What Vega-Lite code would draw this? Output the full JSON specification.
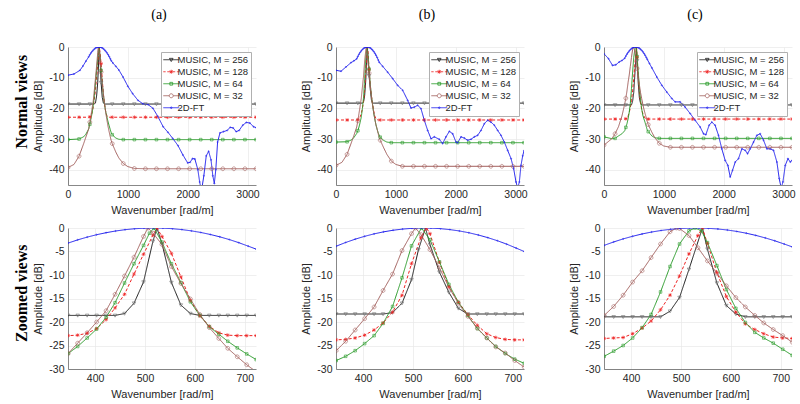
{
"$schema":"https://vega.github.io/schema/vega-lite/v6.json",
"padding":{"left":13,"top":8,"right":0,"bottom":0},
"config":{
 "view":{"stroke":null},
 "font":"Liberation Sans",
 "axis":{"labelFont":"Liberation Sans","labelFontSize":10.5,"labelColor":"#262626","titleFont":"Liberation Sans","titleFontSize":11,"titleFontWeight":"normal","titleColor":"#262626","grid":true,"gridColor":"#e8e8e8","gridWidth":0.7,"domainColor":"#555555","domainWidth":0.7,"ticks":false,"labelPadding":4,"titlePadding":5,"labelFlush":false,"labelExpr":"''+datum.value"},
 "title":{"font":"Liberation Serif","fontSize":14,"fontWeight":"normal","color":"#000000"},
 "legend":{"orient":"top-right","offset":5,"title":null,"symbolOpacity":1,"symbolSize":16,"symbolStrokeWidth":0.8,"symbolOffset":2.5,"labelOffset":1.5,"labelFont":"Liberation Sans","labelFontSize":9.5,"labelColor":"#262626","fillColor":"white","strokeColor":"#b0b0b0","padding":3,"rowPadding":1}
},
"datasets":{
"a":[
{"s":"k","x":0,"y":-18.6,"m":2},{"s":"k","x":185,"y":-18.6,"m":2},{"s":"k","x":346,"y":-18.6,"m":1},{"s":"k","x":365,"y":-18.6,"m":2},{"s":"k","x":384,"y":-18.6,"m":1},{"s":"k","x":403,"y":-18.6,"m":1},{"s":"k","x":422,"y":-18.6,"m":1},{"s":"k","x":440,"y":-18.6,"m":1},{"s":"k","x":459,"y":-18.2,"m":1},{"s":"k","x":478,"y":-16,"m":1},{"s":"k","x":497,"y":-11.5,"m":1},{"s":"k","x":516,"y":-2.8,"m":1},{"s":"k","x":524,"y":0,"m":1},{"s":"k","x":534,"y":-3.3,"m":1},{"s":"k","x":553,"y":-11.6,"m":2},{"s":"k","x":572,"y":-16.4,"m":1},{"s":"k","x":591,"y":-18.2,"m":1},{"s":"k","x":610,"y":-18.6,"m":1},{"s":"k","x":629,"y":-18.6,"m":1},{"s":"k","x":648,"y":-18.6,"m":1},{"s":"k","x":666,"y":-18.6,"m":1},{"s":"k","x":685,"y":-18.6,"m":1},{"s":"k","x":704,"y":-18.6,"m":1},{"s":"k","x":723,"y":-18.6,"m":1},{"s":"k","x":739,"y":-18.6,"m":2},{"s":"k","x":924,"y":-18.6,"m":2},{"s":"k","x":1109,"y":-18.6,"m":2},{"s":"k","x":1294,"y":-18.6,"m":2},{"s":"k","x":1478,"y":-18.6,"m":2},{"s":"k","x":1663,"y":-18.6,"m":2},{"s":"k","x":1848,"y":-18.6,"m":2},{"s":"k","x":2033,"y":-18.6,"m":2},{"s":"k","x":2218,"y":-18.6,"m":2},{"s":"k","x":2402,"y":-18.6,"m":2},{"s":"k","x":2587,"y":-18.6,"m":2},{"s":"k","x":2772,"y":-18.6,"m":2},{"s":"k","x":2957,"y":-18.6,"m":2},{"s":"k","x":3142,"y":-18.6,"m":2},
{"s":"r","x":0,"y":-22.9,"m":2},{"s":"r","x":185,"y":-22.9,"m":2},{"s":"r","x":346,"y":-22.9,"m":1},{"s":"r","x":365,"y":-22.8,"m":2},{"s":"r","x":384,"y":-22.4,"m":1},{"s":"r","x":403,"y":-21.4,"m":1},{"s":"r","x":422,"y":-19.5,"m":1},{"s":"r","x":440,"y":-17,"m":1},{"s":"r","x":459,"y":-14.1,"m":1},{"s":"r","x":478,"y":-9.8,"m":1},{"s":"r","x":497,"y":-5.6,"m":1},{"s":"r","x":516,"y":-1.5,"m":1},{"s":"r","x":524,"y":0,"m":1},{"s":"r","x":534,"y":-1.8,"m":1},{"s":"r","x":553,"y":-5.4,"m":2},{"s":"r","x":572,"y":-10.4,"m":1},{"s":"r","x":591,"y":-15.4,"m":1},{"s":"r","x":610,"y":-18.7,"m":1},{"s":"r","x":629,"y":-20.9,"m":1},{"s":"r","x":648,"y":-22.3,"m":1},{"s":"r","x":666,"y":-22.8,"m":1},{"s":"r","x":685,"y":-22.9,"m":1},{"s":"r","x":704,"y":-22.9,"m":1},{"s":"r","x":723,"y":-22.9,"m":1},{"s":"r","x":739,"y":-22.9,"m":2},{"s":"r","x":924,"y":-22.9,"m":2},{"s":"r","x":1109,"y":-22.9,"m":2},{"s":"r","x":1294,"y":-22.9,"m":2},{"s":"r","x":1478,"y":-22.9,"m":2},{"s":"r","x":1663,"y":-22.9,"m":2},{"s":"r","x":1848,"y":-22.9,"m":2},{"s":"r","x":2033,"y":-22.9,"m":2},{"s":"r","x":2218,"y":-22.9,"m":2},{"s":"r","x":2402,"y":-22.9,"m":2},{"s":"r","x":2587,"y":-22.9,"m":2},{"s":"r","x":2772,"y":-22.9,"m":2},{"s":"r","x":2957,"y":-22.9,"m":2},{"s":"r","x":3142,"y":-22.9,"m":2},
{"s":"g","x":0,"y":-30.2,"m":2},{"s":"g","x":185,"y":-30,"m":2},{"s":"g","x":260,"y":-29.3},{"s":"g","x":300,"y":-28.4},{"s":"g","x":346,"y":-26.7,"m":1},{"s":"g","x":365,"y":-25.2,"m":2},{"s":"g","x":384,"y":-23.4,"m":1},{"s":"g","x":403,"y":-21.5,"m":1},{"s":"g","x":422,"y":-19,"m":1},{"s":"g","x":440,"y":-15.9,"m":1},{"s":"g","x":459,"y":-11.7,"m":1},{"s":"g","x":478,"y":-7.6,"m":1},{"s":"g","x":497,"y":-3.7,"m":1},{"s":"g","x":509,"y":-1.1,"m":1},{"s":"g","x":518,"y":0,"m":1},{"s":"g","x":534,"y":-3,"m":1},{"s":"g","x":553,"y":-7.6,"m":2},{"s":"g","x":572,"y":-11.6,"m":1},{"s":"g","x":591,"y":-15.7,"m":1},{"s":"g","x":610,"y":-18.6,"m":1},{"s":"g","x":629,"y":-21,"m":1},{"s":"g","x":648,"y":-22.6,"m":1},{"s":"g","x":666,"y":-24.1,"m":1},{"s":"g","x":685,"y":-25.5,"m":1},{"s":"g","x":704,"y":-26.8,"m":1},{"s":"g","x":723,"y":-28,"m":1},{"s":"g","x":739,"y":-28.6,"m":2},{"s":"g","x":800,"y":-29.7},{"s":"g","x":850,"y":-30.1},{"s":"g","x":924,"y":-30.2,"m":2},{"s":"g","x":1109,"y":-30.2,"m":2},{"s":"g","x":1294,"y":-30.2,"m":2},{"s":"g","x":1478,"y":-30.2,"m":2},{"s":"g","x":1663,"y":-30.2,"m":2},{"s":"g","x":1848,"y":-30.2,"m":2},{"s":"g","x":2033,"y":-30.2,"m":2},{"s":"g","x":2218,"y":-30.2,"m":2},{"s":"g","x":2402,"y":-30.2,"m":2},{"s":"g","x":2587,"y":-30.2,"m":2},{"s":"g","x":2772,"y":-30.2,"m":2},{"s":"g","x":2957,"y":-30.2,"m":2},{"s":"g","x":3142,"y":-30.2,"m":2},
{"s":"o","x":0,"y":-39.3,"m":2},{"s":"o","x":100,"y":-38.3},{"s":"o","x":185,"y":-35.6,"m":2},{"s":"o","x":260,"y":-31.6},{"s":"o","x":300,"y":-29.3},{"s":"o","x":346,"y":-26.7,"m":1},{"s":"o","x":365,"y":-24.5,"m":2},{"s":"o","x":384,"y":-22.3,"m":1},{"s":"o","x":403,"y":-20,"m":1},{"s":"o","x":422,"y":-17.6,"m":1},{"s":"o","x":440,"y":-14.1,"m":1},{"s":"o","x":459,"y":-10.2,"m":1},{"s":"o","x":478,"y":-6.2,"m":1},{"s":"o","x":497,"y":-1.8,"m":1},{"s":"o","x":506,"y":0,"m":1},{"s":"o","x":516,"y":-1.1,"m":1},{"s":"o","x":534,"y":-3.5,"m":1},{"s":"o","x":553,"y":-8.2,"m":2},{"s":"o","x":572,"y":-11.8,"m":1},{"s":"o","x":591,"y":-15.1,"m":1},{"s":"o","x":610,"y":-18.4,"m":1},{"s":"o","x":629,"y":-21.2,"m":1},{"s":"o","x":648,"y":-23.5,"m":1},{"s":"o","x":666,"y":-25.6,"m":1},{"s":"o","x":685,"y":-27.4,"m":1},{"s":"o","x":704,"y":-29.1,"m":1},{"s":"o","x":723,"y":-30.6,"m":1},{"s":"o","x":739,"y":-31.5,"m":2},{"s":"o","x":800,"y":-34.3},{"s":"o","x":850,"y":-36.2},{"s":"o","x":924,"y":-38,"m":2},{"s":"o","x":1000,"y":-39},{"s":"o","x":1109,"y":-39.6,"m":2},{"s":"o","x":1294,"y":-39.7,"m":2},{"s":"o","x":1478,"y":-39.7,"m":2},{"s":"o","x":1663,"y":-39.7,"m":2},{"s":"o","x":1848,"y":-39.7,"m":2},{"s":"o","x":2033,"y":-39.7,"m":2},{"s":"o","x":2218,"y":-39.7,"m":2},{"s":"o","x":2402,"y":-39.7,"m":2},{"s":"o","x":2587,"y":-39.7,"m":2},{"s":"o","x":2772,"y":-39.7,"m":2},{"s":"o","x":2957,"y":-39.7,"m":2},{"s":"o","x":3142,"y":-39.7,"m":2},
{"s":"b","x":0,"y":-9.2,"m":2},{"s":"b","x":100,"y":-8.8,"m":2},{"s":"b","x":200,"y":-7.6,"m":2},{"s":"b","x":250,"y":-6.2,"m":2},{"s":"b","x":300,"y":-4.6,"m":2},{"s":"b","x":346,"y":-3.2,"m":2},{"s":"b","x":365,"y":-2.53,"m":2},{"s":"b","x":384,"y":-1.94,"m":2},{"s":"b","x":403,"y":-1.43,"m":2},{"s":"b","x":422,"y":-1,"m":2},{"s":"b","x":441,"y":-0.64,"m":2},{"s":"b","x":460,"y":-0.36,"m":2},{"s":"b","x":479,"y":-0.16,"m":2},{"s":"b","x":498,"y":-0.04,"m":2},{"s":"b","x":517,"y":0,"m":2},{"s":"b","x":536,"y":-0.03,"m":2},{"s":"b","x":555,"y":-0.15,"m":2},{"s":"b","x":574,"y":-0.34,"m":2},{"s":"b","x":593,"y":-0.61,"m":2},{"s":"b","x":612,"y":-0.95,"m":2},{"s":"b","x":631,"y":-1.38,"m":2},{"s":"b","x":650,"y":-1.88,"m":2},{"s":"b","x":669,"y":-2.46,"m":2},{"s":"b","x":688,"y":-3.12,"m":2},{"s":"b","x":707,"y":-3.86,"m":2},{"s":"b","x":723,"y":-4.5,"m":2},{"s":"b","x":750,"y":-5.2,"m":2},{"s":"b","x":800,"y":-6.3,"m":2},{"s":"b","x":850,"y":-7.5,"m":2},{"s":"b","x":920,"y":-9.8,"m":2},{"s":"b","x":1000,"y":-12.8,"m":2},{"s":"b","x":1080,"y":-15.2,"m":2},{"s":"b","x":1170,"y":-17.4,"m":2},{"s":"b","x":1250,"y":-18.5,"m":2},{"s":"b","x":1340,"y":-18.8,"m":2},{"s":"b","x":1420,"y":-20,"m":2},{"s":"b","x":1500,"y":-22.6,"m":2},{"s":"b","x":1590,"y":-26,"m":2},{"s":"b","x":1670,"y":-27.8,"m":2},{"s":"b","x":1750,"y":-29.8,"m":2},{"s":"b","x":1840,"y":-32.2,"m":2},{"s":"b","x":1920,"y":-35.2,"m":2},{"s":"b","x":2000,"y":-37.8,"m":2},{"s":"b","x":2040,"y":-37.6,"m":2},{"s":"b","x":2080,"y":-36.4,"m":2},{"s":"b","x":2120,"y":-36.5,"m":2},{"s":"b","x":2170,"y":-40,"m":2},{"s":"b","x":2200,"y":-44,"m":2},{"s":"b","x":2230,"y":-47,"m":2},{"s":"b","x":2270,"y":-42,"m":2},{"s":"b","x":2310,"y":-35.5,"m":2},{"s":"b","x":2350,"y":-34,"m":2},{"s":"b","x":2390,"y":-36.8,"m":2},{"s":"b","x":2420,"y":-42,"m":2},{"s":"b","x":2445,"y":-44.5,"m":2},{"s":"b","x":2470,"y":-40,"m":2},{"s":"b","x":2500,"y":-31,"m":2},{"s":"b","x":2540,"y":-28,"m":2},{"s":"b","x":2600,"y":-27.6,"m":2},{"s":"b","x":2660,"y":-27.2,"m":2},{"s":"b","x":2710,"y":-26.2,"m":2},{"s":"b","x":2760,"y":-26.4,"m":2},{"s":"b","x":2810,"y":-27.6,"m":2},{"s":"b","x":2860,"y":-27.2,"m":2},{"s":"b","x":2920,"y":-25.5,"m":2},{"s":"b","x":2980,"y":-24.6,"m":2},{"s":"b","x":3040,"y":-24.8,"m":2},{"s":"b","x":3100,"y":-26,"m":2},{"s":"b","x":3142,"y":-26.3,"m":2}
],
"b":[
{"s":"k","x":0,"y":-18.3,"m":2},{"s":"k","x":185,"y":-18.3,"m":2},{"s":"k","x":346,"y":-18.3,"m":1},{"s":"k","x":365,"y":-18.3,"m":2},{"s":"k","x":384,"y":-18.3,"m":1},{"s":"k","x":403,"y":-18.3,"m":1},{"s":"k","x":422,"y":-18.3,"m":1},{"s":"k","x":440,"y":-18.3,"m":1},{"s":"k","x":459,"y":-18,"m":1},{"s":"k","x":478,"y":-16,"m":1},{"s":"k","x":497,"y":-11,"m":1},{"s":"k","x":511,"y":-4.6,"m":1},{"s":"k","x":525,"y":0,"m":1},{"s":"k","x":534,"y":-3.5,"m":1},{"s":"k","x":553,"y":-9.4,"m":2},{"s":"k","x":572,"y":-13.7,"m":1},{"s":"k","x":591,"y":-17.1,"m":1},{"s":"k","x":610,"y":-18.3,"m":1},{"s":"k","x":629,"y":-18.3,"m":1},{"s":"k","x":648,"y":-18.3,"m":1},{"s":"k","x":666,"y":-18.3,"m":1},{"s":"k","x":685,"y":-18.3,"m":1},{"s":"k","x":704,"y":-18.3,"m":1},{"s":"k","x":723,"y":-18.3,"m":1},{"s":"k","x":739,"y":-18.3,"m":2},{"s":"k","x":924,"y":-18.3,"m":2},{"s":"k","x":1109,"y":-18.3,"m":2},{"s":"k","x":1294,"y":-18.3,"m":2},{"s":"k","x":1478,"y":-18.3,"m":2},{"s":"k","x":1663,"y":-18.3,"m":2},{"s":"k","x":1848,"y":-18.3,"m":2},{"s":"k","x":2033,"y":-18.3,"m":2},{"s":"k","x":2218,"y":-18.3,"m":2},{"s":"k","x":2402,"y":-18.3,"m":2},{"s":"k","x":2587,"y":-18.3,"m":2},{"s":"k","x":2772,"y":-18.3,"m":2},{"s":"k","x":2957,"y":-18.3,"m":2},{"s":"k","x":3142,"y":-18.3,"m":2},
{"s":"r","x":0,"y":-23.8,"m":2},{"s":"r","x":185,"y":-23.8,"m":2},{"s":"r","x":346,"y":-23.8,"m":1},{"s":"r","x":365,"y":-23.7,"m":2},{"s":"r","x":384,"y":-23.4,"m":1},{"s":"r","x":403,"y":-22.8,"m":1},{"s":"r","x":422,"y":-21.7,"m":1},{"s":"r","x":440,"y":-20.2,"m":1},{"s":"r","x":459,"y":-17.9,"m":1},{"s":"r","x":478,"y":-14.3,"m":1},{"s":"r","x":497,"y":-7.6,"m":1},{"s":"r","x":516,"y":-2,"m":1},{"s":"r","x":527,"y":0,"m":1},{"s":"r","x":534,"y":-1.2,"m":1},{"s":"r","x":553,"y":-7.3,"m":2},{"s":"r","x":572,"y":-12.5,"m":1},{"s":"r","x":591,"y":-15.8,"m":1},{"s":"r","x":610,"y":-18.4,"m":1},{"s":"r","x":629,"y":-20.7,"m":1},{"s":"r","x":648,"y":-22.5,"m":1},{"s":"r","x":666,"y":-23.3,"m":1},{"s":"r","x":685,"y":-23.7,"m":1},{"s":"r","x":704,"y":-23.8,"m":1},{"s":"r","x":723,"y":-23.8,"m":1},{"s":"r","x":739,"y":-23.8,"m":2},{"s":"r","x":924,"y":-23.8,"m":2},{"s":"r","x":1109,"y":-23.8,"m":2},{"s":"r","x":1294,"y":-23.8,"m":2},{"s":"r","x":1478,"y":-23.8,"m":2},{"s":"r","x":1663,"y":-23.8,"m":2},{"s":"r","x":1848,"y":-23.8,"m":2},{"s":"r","x":2033,"y":-23.8,"m":2},{"s":"r","x":2218,"y":-23.8,"m":2},{"s":"r","x":2402,"y":-23.8,"m":2},{"s":"r","x":2587,"y":-23.8,"m":2},{"s":"r","x":2772,"y":-23.8,"m":2},{"s":"r","x":2957,"y":-23.8,"m":2},{"s":"r","x":3142,"y":-23.8,"m":2},
{"s":"g","x":0,"y":-31,"m":2},{"s":"g","x":185,"y":-30.9,"m":2},{"s":"g","x":260,"y":-30.3},{"s":"g","x":300,"y":-29.5},{"s":"g","x":346,"y":-28.2,"m":1},{"s":"g","x":365,"y":-27.3,"m":2},{"s":"g","x":384,"y":-26.1,"m":1},{"s":"g","x":403,"y":-24.6,"m":1},{"s":"g","x":422,"y":-22.9,"m":1},{"s":"g","x":440,"y":-20.3,"m":1},{"s":"g","x":459,"y":-16.7,"m":1},{"s":"g","x":478,"y":-10.6,"m":1},{"s":"g","x":497,"y":-3.8,"m":1},{"s":"g","x":517,"y":0,"m":1},{"s":"g","x":534,"y":-2.5,"m":1},{"s":"g","x":553,"y":-7.2,"m":2},{"s":"g","x":572,"y":-12,"m":1},{"s":"g","x":591,"y":-15.8,"m":1},{"s":"g","x":610,"y":-18.6,"m":1},{"s":"g","x":629,"y":-21.4,"m":1},{"s":"g","x":648,"y":-23.4,"m":1},{"s":"g","x":666,"y":-25.2,"m":1},{"s":"g","x":685,"y":-26.7,"m":1},{"s":"g","x":704,"y":-27.9,"m":1},{"s":"g","x":723,"y":-28.8,"m":1},{"s":"g","x":739,"y":-29.4,"m":2},{"s":"g","x":800,"y":-30.5},{"s":"g","x":850,"y":-31},{"s":"g","x":924,"y":-31.2,"m":2},{"s":"g","x":1109,"y":-31.2,"m":2},{"s":"g","x":1294,"y":-31.2,"m":2},{"s":"g","x":1478,"y":-31.2,"m":2},{"s":"g","x":1663,"y":-31.2,"m":2},{"s":"g","x":1848,"y":-31.2,"m":2},{"s":"g","x":2033,"y":-31.2,"m":2},{"s":"g","x":2218,"y":-31.2,"m":2},{"s":"g","x":2402,"y":-31.2,"m":2},{"s":"g","x":2587,"y":-31.2,"m":2},{"s":"g","x":2772,"y":-31.2,"m":2},{"s":"g","x":2957,"y":-31.2,"m":2},{"s":"g","x":3142,"y":-31.2,"m":2},
{"s":"o","x":0,"y":-38.6,"m":2},{"s":"o","x":100,"y":-37.6},{"s":"o","x":185,"y":-35,"m":2},{"s":"o","x":260,"y":-31},{"s":"o","x":300,"y":-28.8},{"s":"o","x":346,"y":-26.1,"m":1},{"s":"o","x":365,"y":-24.1,"m":2},{"s":"o","x":384,"y":-21.7,"m":1},{"s":"o","x":403,"y":-19.3,"m":1},{"s":"o","x":422,"y":-16.8,"m":1},{"s":"o","x":440,"y":-13.3,"m":1},{"s":"o","x":459,"y":-9.8,"m":1},{"s":"o","x":478,"y":-4.8,"m":1},{"s":"o","x":497,"y":-1.2,"m":1},{"s":"o","x":505,"y":0,"m":1},{"s":"o","x":516,"y":-1.4,"m":1},{"s":"o","x":534,"y":-4.6,"m":1},{"s":"o","x":553,"y":-8.5,"m":2},{"s":"o","x":572,"y":-12.6,"m":1},{"s":"o","x":591,"y":-16,"m":1},{"s":"o","x":610,"y":-18.8,"m":1},{"s":"o","x":629,"y":-21.3,"m":1},{"s":"o","x":648,"y":-23.4,"m":1},{"s":"o","x":666,"y":-25.3,"m":1},{"s":"o","x":685,"y":-26.6,"m":1},{"s":"o","x":704,"y":-28.2,"m":1},{"s":"o","x":723,"y":-29.6,"m":1},{"s":"o","x":739,"y":-30.4,"m":2},{"s":"o","x":800,"y":-33},{"s":"o","x":850,"y":-35},{"s":"o","x":924,"y":-37.2,"m":2},{"s":"o","x":1000,"y":-38.3},{"s":"o","x":1109,"y":-38.9,"m":2},{"s":"o","x":1294,"y":-38.9,"m":2},{"s":"o","x":1478,"y":-38.9,"m":2},{"s":"o","x":1663,"y":-38.9,"m":2},{"s":"o","x":1848,"y":-38.9,"m":2},{"s":"o","x":2033,"y":-38.9,"m":2},{"s":"o","x":2218,"y":-38.9,"m":2},{"s":"o","x":2402,"y":-38.9,"m":2},{"s":"o","x":2587,"y":-38.9,"m":2},{"s":"o","x":2772,"y":-38.9,"m":2},{"s":"o","x":2957,"y":-38.9,"m":2},{"s":"o","x":3142,"y":-38.9,"m":2},
{"s":"b","x":0,"y":-7.6,"m":2},{"s":"b","x":84,"y":-7.9,"m":2},{"s":"b","x":167,"y":-6.5,"m":2},{"s":"b","x":251,"y":-5.1,"m":2},{"s":"b","x":300,"y":-4.5,"m":2},{"s":"b","x":346,"y":-3.87,"m":2},{"s":"b","x":365,"y":-3.08,"m":2},{"s":"b","x":384,"y":-2.38,"m":2},{"s":"b","x":403,"y":-1.77,"m":2},{"s":"b","x":422,"y":-1.25,"m":2},{"s":"b","x":441,"y":-0.82,"m":2},{"s":"b","x":460,"y":-0.48,"m":2},{"s":"b","x":479,"y":-0.23,"m":2},{"s":"b","x":498,"y":-0.07,"m":2},{"s":"b","x":517,"y":0,"m":2},{"s":"b","x":536,"y":-0.02,"m":2},{"s":"b","x":555,"y":-0.14,"m":2},{"s":"b","x":574,"y":-0.34,"m":2},{"s":"b","x":593,"y":-0.63,"m":2},{"s":"b","x":612,"y":-1.01,"m":2},{"s":"b","x":631,"y":-1.49,"m":2},{"s":"b","x":650,"y":-2.05,"m":2},{"s":"b","x":669,"y":-2.7,"m":2},{"s":"b","x":688,"y":-3.44,"m":2},{"s":"b","x":707,"y":-4.28,"m":2},{"s":"b","x":723,"y":-5,"m":2},{"s":"b","x":780,"y":-6.3,"m":2},{"s":"b","x":863,"y":-8.2,"m":2},{"s":"b","x":947,"y":-10.3,"m":2},{"s":"b","x":1030,"y":-12.5,"m":2},{"s":"b","x":1114,"y":-14.1,"m":2},{"s":"b","x":1198,"y":-17.4,"m":2},{"s":"b","x":1253,"y":-19.9,"m":2},{"s":"b","x":1309,"y":-19.6,"m":2},{"s":"b","x":1365,"y":-19,"m":2},{"s":"b","x":1420,"y":-20.1,"m":2},{"s":"b","x":1476,"y":-23.9,"m":2},{"s":"b","x":1532,"y":-27.2,"m":2},{"s":"b","x":1588,"y":-29.9,"m":2},{"s":"b","x":1643,"y":-29.3,"m":2},{"s":"b","x":1727,"y":-30.1,"m":2},{"s":"b","x":1782,"y":-31.5,"m":2},{"s":"b","x":1838,"y":-29.3,"m":2},{"s":"b","x":1894,"y":-27.5,"m":2},{"s":"b","x":1950,"y":-28.3,"m":2},{"s":"b","x":2005,"y":-31,"m":2},{"s":"b","x":2033,"y":-31.2,"m":2},{"s":"b","x":2089,"y":-29.3,"m":2},{"s":"b","x":2145,"y":-29.7,"m":2},{"s":"b","x":2200,"y":-30.4,"m":2},{"s":"b","x":2256,"y":-30.1,"m":2},{"s":"b","x":2312,"y":-29.3,"m":2},{"s":"b","x":2367,"y":-28.8,"m":2},{"s":"b","x":2423,"y":-27.2,"m":2},{"s":"b","x":2479,"y":-25,"m":2},{"s":"b","x":2534,"y":-23.9,"m":2},{"s":"b","x":2590,"y":-24.5,"m":2},{"s":"b","x":2646,"y":-25.5,"m":2},{"s":"b","x":2702,"y":-27.2,"m":2},{"s":"b","x":2757,"y":-28.8,"m":2},{"s":"b","x":2813,"y":-31,"m":2},{"s":"b","x":2869,"y":-33.7,"m":2},{"s":"b","x":2925,"y":-36.4,"m":2},{"s":"b","x":2969,"y":-39.7,"m":2},{"s":"b","x":3008,"y":-44,"m":2},{"s":"b","x":3036,"y":-46,"m":2},{"s":"b","x":3064,"y":-44,"m":2},{"s":"b","x":3091,"y":-38.6,"m":2},{"s":"b","x":3120,"y":-35.5,"m":2},{"s":"b","x":3142,"y":-33.8,"m":2}
],
"c":[
{"s":"k","x":0,"y":-18.9,"m":2},{"s":"k","x":185,"y":-18.9,"m":2},{"s":"k","x":346,"y":-18.9,"m":1},{"s":"k","x":365,"y":-18.9,"m":2},{"s":"k","x":384,"y":-18.9,"m":1},{"s":"k","x":403,"y":-18.9,"m":1},{"s":"k","x":422,"y":-18.9,"m":1},{"s":"k","x":440,"y":-18.9,"m":1},{"s":"k","x":459,"y":-18.9,"m":1},{"s":"k","x":478,"y":-17.7,"m":1},{"s":"k","x":497,"y":-14.8,"m":1},{"s":"k","x":516,"y":-8.8,"m":1},{"s":"k","x":543,"y":0,"m":1},{"s":"k","x":553,"y":-4.5,"m":2},{"s":"k","x":572,"y":-11.7,"m":1},{"s":"k","x":591,"y":-16.5,"m":1},{"s":"k","x":610,"y":-18.3,"m":1},{"s":"k","x":629,"y":-18.9,"m":1},{"s":"k","x":648,"y":-18.9,"m":1},{"s":"k","x":666,"y":-18.9,"m":1},{"s":"k","x":685,"y":-18.9,"m":1},{"s":"k","x":704,"y":-18.9,"m":1},{"s":"k","x":723,"y":-18.9,"m":1},{"s":"k","x":739,"y":-18.9,"m":2},{"s":"k","x":924,"y":-18.9,"m":2},{"s":"k","x":1109,"y":-18.9,"m":2},{"s":"k","x":1294,"y":-18.9,"m":2},{"s":"k","x":1478,"y":-18.9,"m":2},{"s":"k","x":1663,"y":-18.9,"m":2},{"s":"k","x":1848,"y":-18.9,"m":2},{"s":"k","x":2033,"y":-18.9,"m":2},{"s":"k","x":2218,"y":-18.9,"m":2},{"s":"k","x":2402,"y":-18.9,"m":2},{"s":"k","x":2587,"y":-18.9,"m":2},{"s":"k","x":2772,"y":-18.9,"m":2},{"s":"k","x":2957,"y":-18.9,"m":2},{"s":"k","x":3142,"y":-18.9,"m":2},
{"s":"r","x":0,"y":-23.5,"m":2},{"s":"r","x":185,"y":-23.5,"m":2},{"s":"r","x":346,"y":-23.5,"m":1},{"s":"r","x":365,"y":-23.4,"m":2},{"s":"r","x":384,"y":-23.3,"m":1},{"s":"r","x":403,"y":-22.5,"m":1},{"s":"r","x":422,"y":-21.3,"m":1},{"s":"r","x":440,"y":-19.8,"m":1},{"s":"r","x":459,"y":-17.4,"m":1},{"s":"r","x":478,"y":-14.3,"m":1},{"s":"r","x":497,"y":-10.2,"m":1},{"s":"r","x":516,"y":-5.5,"m":1},{"s":"r","x":534,"y":-1.6,"m":1},{"s":"r","x":543,"y":0,"m":1},{"s":"r","x":553,"y":-3.3,"m":2},{"s":"r","x":572,"y":-9.5,"m":1},{"s":"r","x":591,"y":-14.6,"m":1},{"s":"r","x":610,"y":-17.9,"m":1},{"s":"r","x":629,"y":-20.4,"m":1},{"s":"r","x":648,"y":-21.6,"m":1},{"s":"r","x":666,"y":-22.5,"m":1},{"s":"r","x":685,"y":-23.2,"m":1},{"s":"r","x":704,"y":-23.4,"m":1},{"s":"r","x":723,"y":-23.5,"m":1},{"s":"r","x":739,"y":-23.5,"m":2},{"s":"r","x":924,"y":-23.5,"m":2},{"s":"r","x":1109,"y":-23.5,"m":2},{"s":"r","x":1294,"y":-23.5,"m":2},{"s":"r","x":1478,"y":-23.5,"m":2},{"s":"r","x":1663,"y":-23.5,"m":2},{"s":"r","x":1848,"y":-23.5,"m":2},{"s":"r","x":2033,"y":-23.5,"m":2},{"s":"r","x":2218,"y":-23.5,"m":2},{"s":"r","x":2402,"y":-23.5,"m":2},{"s":"r","x":2587,"y":-23.5,"m":2},{"s":"r","x":2772,"y":-23.5,"m":2},{"s":"r","x":2957,"y":-23.5,"m":2},{"s":"r","x":3142,"y":-23.5,"m":2},
{"s":"g","x":0,"y":-29.3,"m":2},{"s":"g","x":131,"y":-29.9},{"s":"g","x":185,"y":-29.8,"m":2},{"s":"g","x":242,"y":-29},{"s":"g","x":300,"y":-28.3},{"s":"g","x":346,"y":-27.3,"m":1},{"s":"g","x":365,"y":-26.2,"m":2},{"s":"g","x":384,"y":-25,"m":1},{"s":"g","x":403,"y":-23.4,"m":1},{"s":"g","x":422,"y":-21.2,"m":1},{"s":"g","x":440,"y":-18.4,"m":1},{"s":"g","x":459,"y":-13.6,"m":1},{"s":"g","x":478,"y":-8.2,"m":1},{"s":"g","x":497,"y":-3.4,"m":1},{"s":"g","x":516,"y":-0.6,"m":1},{"s":"g","x":528,"y":0,"m":1},{"s":"g","x":541,"y":-0.6,"m":1},{"s":"g","x":553,"y":-3.1,"m":2},{"s":"g","x":572,"y":-8,"m":1},{"s":"g","x":591,"y":-13.1,"m":1},{"s":"g","x":610,"y":-17.1,"m":1},{"s":"g","x":629,"y":-20.1,"m":1},{"s":"g","x":648,"y":-22.2,"m":1},{"s":"g","x":666,"y":-23.4,"m":1},{"s":"g","x":685,"y":-24.5,"m":1},{"s":"g","x":704,"y":-25.8,"m":1},{"s":"g","x":723,"y":-27.1,"m":1},{"s":"g","x":739,"y":-27.6,"m":2},{"s":"g","x":800,"y":-29},{"s":"g","x":850,"y":-29.6},{"s":"g","x":924,"y":-29.8,"m":2},{"s":"g","x":1109,"y":-29.8,"m":2},{"s":"g","x":1294,"y":-29.8,"m":2},{"s":"g","x":1478,"y":-29.8,"m":2},{"s":"g","x":1663,"y":-29.8,"m":2},{"s":"g","x":1848,"y":-29.8,"m":2},{"s":"g","x":2033,"y":-29.8,"m":2},{"s":"g","x":2218,"y":-29.8,"m":2},{"s":"g","x":2402,"y":-29.8,"m":2},{"s":"g","x":2587,"y":-29.8,"m":2},{"s":"g","x":2772,"y":-29.8,"m":2},{"s":"g","x":2957,"y":-29.8,"m":2},{"s":"g","x":3142,"y":-29.8,"m":2},
{"s":"o","x":0,"y":-32,"m":2},{"s":"o","x":131,"y":-29.9},{"s":"o","x":185,"y":-28.3,"m":2},{"s":"o","x":242,"y":-26},{"s":"o","x":300,"y":-22.5},{"s":"o","x":346,"y":-18.6,"m":1},{"s":"o","x":365,"y":-16.7,"m":2},{"s":"o","x":384,"y":-14.3,"m":1},{"s":"o","x":403,"y":-11.5,"m":1},{"s":"o","x":422,"y":-9.1,"m":1},{"s":"o","x":440,"y":-6.3,"m":1},{"s":"o","x":459,"y":-3.4,"m":1},{"s":"o","x":478,"y":-0.8,"m":1},{"s":"o","x":491,"y":0,"m":1},{"s":"o","x":497,"y":-0.1,"m":1},{"s":"o","x":516,"y":-1.6,"m":1},{"s":"o","x":534,"y":-4.2,"m":1},{"s":"o","x":553,"y":-7,"m":2},{"s":"o","x":572,"y":-9.6,"m":1},{"s":"o","x":591,"y":-12.3,"m":1},{"s":"o","x":610,"y":-14.8,"m":1},{"s":"o","x":629,"y":-16.8,"m":1},{"s":"o","x":648,"y":-18.6,"m":1},{"s":"o","x":666,"y":-20.2,"m":1},{"s":"o","x":685,"y":-21.6,"m":1},{"s":"o","x":704,"y":-22.9,"m":1},{"s":"o","x":723,"y":-24.3,"m":1},{"s":"o","x":739,"y":-25.3,"m":2},{"s":"o","x":800,"y":-27.8},{"s":"o","x":850,"y":-29.6},{"s":"o","x":924,"y":-31.4,"m":2},{"s":"o","x":1000,"y":-32.3},{"s":"o","x":1109,"y":-32.7,"m":2},{"s":"o","x":1294,"y":-32.7,"m":2},{"s":"o","x":1478,"y":-32.7,"m":2},{"s":"o","x":1663,"y":-32.7,"m":2},{"s":"o","x":1848,"y":-32.7,"m":2},{"s":"o","x":2033,"y":-32.7,"m":2},{"s":"o","x":2218,"y":-32.7,"m":2},{"s":"o","x":2402,"y":-32.7,"m":2},{"s":"o","x":2587,"y":-32.7,"m":2},{"s":"o","x":2772,"y":-32.7,"m":2},{"s":"o","x":2957,"y":-32.7,"m":2},{"s":"o","x":3142,"y":-32.7,"m":2},
{"s":"b","x":0,"y":-2.2,"m":2},{"s":"b","x":75,"y":-3.8,"m":2},{"s":"b","x":142,"y":-6,"m":2},{"s":"b","x":198,"y":-5.8,"m":2},{"s":"b","x":253,"y":-4.9,"m":2},{"s":"b","x":300,"y":-4.4,"m":2},{"s":"b","x":346,"y":-3.69,"m":2},{"s":"b","x":365,"y":-2.97,"m":2},{"s":"b","x":384,"y":-2.32,"m":2},{"s":"b","x":403,"y":-1.76,"m":2},{"s":"b","x":422,"y":-1.27,"m":2},{"s":"b","x":441,"y":-0.86,"m":2},{"s":"b","x":460,"y":-0.53,"m":2},{"s":"b","x":479,"y":-0.28,"m":2},{"s":"b","x":498,"y":-0.11,"m":2},{"s":"b","x":517,"y":-0.02,"m":2},{"s":"b","x":536,"y":0,"m":2},{"s":"b","x":555,"y":-0.07,"m":2},{"s":"b","x":574,"y":-0.21,"m":2},{"s":"b","x":593,"y":-0.43,"m":2},{"s":"b","x":612,"y":-0.73,"m":2},{"s":"b","x":631,"y":-1.11,"m":2},{"s":"b","x":650,"y":-1.57,"m":2},{"s":"b","x":669,"y":-2.11,"m":2},{"s":"b","x":688,"y":-2.72,"m":2},{"s":"b","x":707,"y":-3.41,"m":2},{"s":"b","x":723,"y":-4.02,"m":2},{"s":"b","x":760,"y":-5.4,"m":2},{"s":"b","x":800,"y":-6.8,"m":2},{"s":"b","x":883,"y":-9.8,"m":2},{"s":"b","x":967,"y":-12.5,"m":2},{"s":"b","x":1050,"y":-14.7,"m":2},{"s":"b","x":1134,"y":-16.8,"m":2},{"s":"b","x":1189,"y":-17.9,"m":2},{"s":"b","x":1273,"y":-17.9,"m":2},{"s":"b","x":1356,"y":-19.6,"m":2},{"s":"b","x":1440,"y":-21.7,"m":2},{"s":"b","x":1523,"y":-23.9,"m":2},{"s":"b","x":1607,"y":-26.1,"m":2},{"s":"b","x":1663,"y":-28.3,"m":2},{"s":"b","x":1702,"y":-28.6,"m":2},{"s":"b","x":1757,"y":-25.5,"m":2},{"s":"b","x":1802,"y":-24.5,"m":2},{"s":"b","x":1857,"y":-25.5,"m":2},{"s":"b","x":1913,"y":-28.8,"m":2},{"s":"b","x":1969,"y":-33.2,"m":2},{"s":"b","x":2025,"y":-37,"m":2},{"s":"b","x":2070,"y":-38.6,"m":2},{"s":"b","x":2109,"y":-42.4,"m":2},{"s":"b","x":2148,"y":-40.2,"m":2},{"s":"b","x":2193,"y":-37.5,"m":2},{"s":"b","x":2248,"y":-36.4,"m":2},{"s":"b","x":2304,"y":-33.2,"m":2},{"s":"b","x":2360,"y":-33.7,"m":2},{"s":"b","x":2399,"y":-34.8,"m":2},{"s":"b","x":2443,"y":-33.2,"m":2},{"s":"b","x":2499,"y":-31,"m":2},{"s":"b","x":2555,"y":-28.8,"m":2},{"s":"b","x":2610,"y":-28.3,"m":2},{"s":"b","x":2666,"y":-30.4,"m":2},{"s":"b","x":2722,"y":-33.2,"m":2},{"s":"b","x":2777,"y":-33.2,"m":2},{"s":"b","x":2833,"y":-33.7,"m":2},{"s":"b","x":2889,"y":-37.5,"m":2},{"s":"b","x":2928,"y":-42.9,"m":2},{"s":"b","x":2961,"y":-46,"m":2},{"s":"b","x":2990,"y":-44,"m":2},{"s":"b","x":3029,"y":-38.6,"m":2},{"s":"b","x":3074,"y":-36.4,"m":2},{"s":"b","x":3113,"y":-37.5,"m":2},{"s":"b","x":3142,"y":-37,"m":2}
]
},
"spacing":7,
"vconcat":[
{"title":{"text":"Normal views","orient":"left","font":"Liberation Serif","fontSize":16,"fontWeight":"bold","offset":3,"anchor":"middle","dx":10},
 "spacing":40,
 "hconcat":[
 {"width":188,"height":138,"title":{"text":"(a)","anchor":"middle","frame":"group","offset":20,"dx":-3},"data":{"name":"a"},
  "encoding":{"x":{"field":"x","type":"quantitative","scale":{"domain":[0,3141.6],"nice":false,"zero":false},"axis":{"values":[0,1000,2000,3000],"title":"Wavenumber [rad/m]"}},
   "y":{"field":"y","type":"quantitative","scale":{"domain":[-45,0],"nice":false,"zero":false},"axis":{"values":[0,-10,-20,-30,-40],"title":"Amplitude [dB]"}}},
  "layer":[
   {"mark":{"type":"line","clip":true,"strokeWidth":1},"encoding":{"color":{"field":"s","type":"nominal","scale":{"domain":["k","r","g","o","b"],"range":["#1a1a1a","#ee2222","#2b9c2b","#a25f5c","#2222ee"]},"legend":null},"strokeDash":{"field":"s","type":"nominal","scale":{"domain":["k","r","g","o","b"],"range":[[1,0],[3,2],[1,0],[1,0],[1,0]]},"legend":null}}},
   {"transform":[{"filter":"datum.m==2"}],"mark":{"type":"point","clip":true,"filled":false,"strokeWidth":0.6,"size":12,"opacity":1},"encoding":{"color":{"field":"s","type":"nominal","scale":{"domain":["k","r","g","o","b"],"range":["#6e6e6e","#ee2222","#2b9c2b","#a25f5c","#2222ee"]},"legend":null},"shape":{"field":"s","type":"nominal","scale":{"domain":["k","r","g","o","b"],"range":["M-1,-0.75H1L0,1Z","M-1.1,0H1.1M0,-1.1V1.1M-0.8,-0.8L0.8,0.8M-0.8,0.8L0.8,-0.8","M-0.75,-0.75H0.75V0.75H-0.75Z","M-1.1,0A1.1,1.1 0 1,0 1.1,0A1.1,1.1 0 1,0 -1.1,0","M-0.35,0A0.35,0.35 0 1,0 0.35,0A0.35,0.35 0 1,0 -0.35,0"]},"legend":null}}},
   {"transform":[{"filter":"datum.x==0"}],"mark":{"type":"point","opacity":0,"filled":false},"encoding":{"color":{"field":"s","type":"nominal","scale":{"domain":["k","r","g","o","b"],"range":["#1a1a1a","#ee2222","#2b9c2b","#a25f5c","#2222ee"]},"legend":{"labelExpr":"datum.label=='k'?'MUSIC, M = 256':datum.label=='r'?'MUSIC, M = 128':datum.label=='g'?'MUSIC, M = 64':datum.label=='o'?'MUSIC, M = 32':'2D-FT'"}},"shape":{"field":"s","type":"nominal","scale":{"domain":["k","r","g","o","b"],"range":["M-4,0H4M-0.9,-0.7H0.9L0,0.9Z","M-4,0H-2.8M-2,0H-0.8M0.8,0H2M2.8,0H4M-1,0H1M0,-1V1M-0.7,-0.7L0.7,0.7M-0.7,0.7L0.7,-0.7","M-4,0H4M-0.7,-0.7H0.7V0.7H-0.7Z","M-4,0H-1M1,0H4M-1,0A1,1 0 1,0 1,0A1,1 0 1,0 -1,0","M-4,0H4M-0.4,0A0.4,0.4 0 1,0 0.4,0A0.4,0.4 0 1,0 -0.4,0"]},"legend":{"labelExpr":"datum.label=='k'?'MUSIC, M = 256':datum.label=='r'?'MUSIC, M = 128':datum.label=='g'?'MUSIC, M = 64':datum.label=='o'?'MUSIC, M = 32':'2D-FT'"}}}}
  ],
  "resolve":{"scale":{"color":"independent","shape":"independent"}}},
 {"width":188,"height":138,"title":{"text":"(b)","anchor":"middle","frame":"group","offset":20,"dx":-3},"data":{"name":"b"},
  "encoding":{"x":{"field":"x","type":"quantitative","scale":{"domain":[0,3141.6],"nice":false,"zero":false},"axis":{"values":[0,1000,2000,3000],"title":"Wavenumber [rad/m]"}},
   "y":{"field":"y","type":"quantitative","scale":{"domain":[-45,0],"nice":false,"zero":false},"axis":{"values":[0,-10,-20,-30,-40],"title":"Amplitude [dB]"}}},
  "layer":[
   {"mark":{"type":"line","clip":true,"strokeWidth":1},"encoding":{"color":{"field":"s","type":"nominal","scale":{"domain":["k","r","g","o","b"],"range":["#1a1a1a","#ee2222","#2b9c2b","#a25f5c","#2222ee"]},"legend":null},"strokeDash":{"field":"s","type":"nominal","scale":{"domain":["k","r","g","o","b"],"range":[[1,0],[3,2],[1,0],[1,0],[1,0]]},"legend":null}}},
   {"transform":[{"filter":"datum.m==2"}],"mark":{"type":"point","clip":true,"filled":false,"strokeWidth":0.6,"size":12,"opacity":1},"encoding":{"color":{"field":"s","type":"nominal","scale":{"domain":["k","r","g","o","b"],"range":["#6e6e6e","#ee2222","#2b9c2b","#a25f5c","#2222ee"]},"legend":null},"shape":{"field":"s","type":"nominal","scale":{"domain":["k","r","g","o","b"],"range":["M-1,-0.75H1L0,1Z","M-1.1,0H1.1M0,-1.1V1.1M-0.8,-0.8L0.8,0.8M-0.8,0.8L0.8,-0.8","M-0.75,-0.75H0.75V0.75H-0.75Z","M-1.1,0A1.1,1.1 0 1,0 1.1,0A1.1,1.1 0 1,0 -1.1,0","M-0.35,0A0.35,0.35 0 1,0 0.35,0A0.35,0.35 0 1,0 -0.35,0"]},"legend":null}}},
   {"transform":[{"filter":"datum.x==0"}],"mark":{"type":"point","opacity":0,"filled":false},"encoding":{"color":{"field":"s","type":"nominal","scale":{"domain":["k","r","g","o","b"],"range":["#1a1a1a","#ee2222","#2b9c2b","#a25f5c","#2222ee"]},"legend":{"labelExpr":"datum.label=='k'?'MUSIC, M = 256':datum.label=='r'?'MUSIC, M = 128':datum.label=='g'?'MUSIC, M = 64':datum.label=='o'?'MUSIC, M = 32':'2D-FT'"}},"shape":{"field":"s","type":"nominal","scale":{"domain":["k","r","g","o","b"],"range":["M-4,0H4M-0.9,-0.7H0.9L0,0.9Z","M-4,0H-2.8M-2,0H-0.8M0.8,0H2M2.8,0H4M-1,0H1M0,-1V1M-0.7,-0.7L0.7,0.7M-0.7,0.7L0.7,-0.7","M-4,0H4M-0.7,-0.7H0.7V0.7H-0.7Z","M-4,0H-1M1,0H4M-1,0A1,1 0 1,0 1,0A1,1 0 1,0 -1,0","M-4,0H4M-0.4,0A0.4,0.4 0 1,0 0.4,0A0.4,0.4 0 1,0 -0.4,0"]},"legend":{"labelExpr":"datum.label=='k'?'MUSIC, M = 256':datum.label=='r'?'MUSIC, M = 128':datum.label=='g'?'MUSIC, M = 64':datum.label=='o'?'MUSIC, M = 32':'2D-FT'"}}}}
  ],
  "resolve":{"scale":{"color":"independent","shape":"independent"}}},
 {"width":188,"height":138,"title":{"text":"(c)","anchor":"middle","frame":"group","offset":20,"dx":-3},"data":{"name":"c"},
  "encoding":{"x":{"field":"x","type":"quantitative","scale":{"domain":[0,3141.6],"nice":false,"zero":false},"axis":{"values":[0,1000,2000,3000],"title":"Wavenumber [rad/m]"}},
   "y":{"field":"y","type":"quantitative","scale":{"domain":[-45,0],"nice":false,"zero":false},"axis":{"values":[0,-10,-20,-30,-40],"title":"Amplitude [dB]"}}},
  "layer":[
   {"mark":{"type":"line","clip":true,"strokeWidth":1},"encoding":{"color":{"field":"s","type":"nominal","scale":{"domain":["k","r","g","o","b"],"range":["#1a1a1a","#ee2222","#2b9c2b","#a25f5c","#2222ee"]},"legend":null},"strokeDash":{"field":"s","type":"nominal","scale":{"domain":["k","r","g","o","b"],"range":[[1,0],[3,2],[1,0],[1,0],[1,0]]},"legend":null}}},
   {"transform":[{"filter":"datum.m==2"}],"mark":{"type":"point","clip":true,"filled":false,"strokeWidth":0.6,"size":12,"opacity":1},"encoding":{"color":{"field":"s","type":"nominal","scale":{"domain":["k","r","g","o","b"],"range":["#6e6e6e","#ee2222","#2b9c2b","#a25f5c","#2222ee"]},"legend":null},"shape":{"field":"s","type":"nominal","scale":{"domain":["k","r","g","o","b"],"range":["M-1,-0.75H1L0,1Z","M-1.1,0H1.1M0,-1.1V1.1M-0.8,-0.8L0.8,0.8M-0.8,0.8L0.8,-0.8","M-0.75,-0.75H0.75V0.75H-0.75Z","M-1.1,0A1.1,1.1 0 1,0 1.1,0A1.1,1.1 0 1,0 -1.1,0","M-0.35,0A0.35,0.35 0 1,0 0.35,0A0.35,0.35 0 1,0 -0.35,0"]},"legend":null}}},
   {"transform":[{"filter":"datum.x==0"}],"mark":{"type":"point","opacity":0,"filled":false},"encoding":{"color":{"field":"s","type":"nominal","scale":{"domain":["k","r","g","o","b"],"range":["#1a1a1a","#ee2222","#2b9c2b","#a25f5c","#2222ee"]},"legend":{"labelExpr":"datum.label=='k'?'MUSIC, M = 256':datum.label=='r'?'MUSIC, M = 128':datum.label=='g'?'MUSIC, M = 64':datum.label=='o'?'MUSIC, M = 32':'2D-FT'"}},"shape":{"field":"s","type":"nominal","scale":{"domain":["k","r","g","o","b"],"range":["M-4,0H4M-0.9,-0.7H0.9L0,0.9Z","M-4,0H-2.8M-2,0H-0.8M0.8,0H2M2.8,0H4M-1,0H1M0,-1V1M-0.7,-0.7L0.7,0.7M-0.7,0.7L0.7,-0.7","M-4,0H4M-0.7,-0.7H0.7V0.7H-0.7Z","M-4,0H-1M1,0H4M-1,0A1,1 0 1,0 1,0A1,1 0 1,0 -1,0","M-4,0H4M-0.4,0A0.4,0.4 0 1,0 0.4,0A0.4,0.4 0 1,0 -0.4,0"]},"legend":{"labelExpr":"datum.label=='k'?'MUSIC, M = 256':datum.label=='r'?'MUSIC, M = 128':datum.label=='g'?'MUSIC, M = 64':datum.label=='o'?'MUSIC, M = 32':'2D-FT'"}}}}
  ],
  "resolve":{"scale":{"color":"independent","shape":"independent"}}}
 ]},
{"title":{"text":"Zoomed views","orient":"left","font":"Liberation Serif","fontSize":16,"fontWeight":"bold","offset":3,"anchor":"middle","dx":18},
 "spacing":44,
 "hconcat":[
 {"width":188,"height":141,"data":{"name":"a"},
  "encoding":{"x":{"field":"x","type":"quantitative","scale":{"domain":[345.6,722.6],"nice":false,"zero":false},"axis":{"values":[400,500,600,700],"title":"Wavenumber [rad/m]"}},
   "y":{"field":"y","type":"quantitative","scale":{"domain":[-30,0],"nice":false,"zero":false},"axis":{"values":[0,-5,-10,-15,-20,-25,-30],"title":"Amplitude [dB]"}}},
  "layer":[
   {"mark":{"type":"line","clip":true,"strokeWidth":1},"encoding":{"color":{"field":"s","type":"nominal","scale":{"domain":["k","r","g","o","b"],"range":["#1a1a1a","#ee2222","#2b9c2b","#a25f5c","#2222ee"]},"legend":null},"strokeDash":{"field":"s","type":"nominal","scale":{"domain":["k","r","g","o","b"],"range":[[1,0],[3,2],[1,0],[1,0],[1,0]]},"legend":null}}},
   {"transform":[{"filter":"datum.m>0"}],"mark":{"type":"point","clip":true,"filled":false,"strokeWidth":0.6,"size":12,"opacity":1},"encoding":{"color":{"field":"s","type":"nominal","scale":{"domain":["k","r","g","o","b"],"range":["#6e6e6e","#ee2222","#2b9c2b","#a25f5c","#2222ee"]},"legend":null},"shape":{"field":"s","type":"nominal","scale":{"domain":["k","r","g","o","b"],"range":["M-1,-0.75H1L0,1Z","M-1.1,0H1.1M0,-1.1V1.1M-0.8,-0.8L0.8,0.8M-0.8,0.8L0.8,-0.8","M-0.75,-0.75H0.75V0.75H-0.75Z","M-1.1,0A1.1,1.1 0 1,0 1.1,0A1.1,1.1 0 1,0 -1.1,0","M-0.35,0A0.35,0.35 0 1,0 0.35,0A0.35,0.35 0 1,0 -0.35,0"]},"legend":null}}}
  ],
  "resolve":{"scale":{"color":"independent"}}},
 {"width":188,"height":141,"data":{"name":"b"},
  "encoding":{"x":{"field":"x","type":"quantitative","scale":{"domain":[345.6,722.6],"nice":false,"zero":false},"axis":{"values":[400,500,600,700],"title":"Wavenumber [rad/m]"}},
   "y":{"field":"y","type":"quantitative","scale":{"domain":[-30,0],"nice":false,"zero":false},"axis":{"values":[0,-5,-10,-15,-20,-25,-30],"title":"Amplitude [dB]"}}},
  "layer":[
   {"mark":{"type":"line","clip":true,"strokeWidth":1},"encoding":{"color":{"field":"s","type":"nominal","scale":{"domain":["k","r","g","o","b"],"range":["#1a1a1a","#ee2222","#2b9c2b","#a25f5c","#2222ee"]},"legend":null},"strokeDash":{"field":"s","type":"nominal","scale":{"domain":["k","r","g","o","b"],"range":[[1,0],[3,2],[1,0],[1,0],[1,0]]},"legend":null}}},
   {"transform":[{"filter":"datum.m>0"}],"mark":{"type":"point","clip":true,"filled":false,"strokeWidth":0.6,"size":12,"opacity":1},"encoding":{"color":{"field":"s","type":"nominal","scale":{"domain":["k","r","g","o","b"],"range":["#6e6e6e","#ee2222","#2b9c2b","#a25f5c","#2222ee"]},"legend":null},"shape":{"field":"s","type":"nominal","scale":{"domain":["k","r","g","o","b"],"range":["M-1,-0.75H1L0,1Z","M-1.1,0H1.1M0,-1.1V1.1M-0.8,-0.8L0.8,0.8M-0.8,0.8L0.8,-0.8","M-0.75,-0.75H0.75V0.75H-0.75Z","M-1.1,0A1.1,1.1 0 1,0 1.1,0A1.1,1.1 0 1,0 -1.1,0","M-0.35,0A0.35,0.35 0 1,0 0.35,0A0.35,0.35 0 1,0 -0.35,0"]},"legend":null}}}
  ],
  "resolve":{"scale":{"color":"independent"}}},
 {"width":188,"height":141,"data":{"name":"c"},
  "encoding":{"x":{"field":"x","type":"quantitative","scale":{"domain":[345.6,722.6],"nice":false,"zero":false},"axis":{"values":[400,500,600,700],"title":"Wavenumber [rad/m]"}},
   "y":{"field":"y","type":"quantitative","scale":{"domain":[-30,0],"nice":false,"zero":false},"axis":{"values":[0,-5,-10,-15,-20,-25,-30],"title":"Amplitude [dB]"}}},
  "layer":[
   {"mark":{"type":"line","clip":true,"strokeWidth":1},"encoding":{"color":{"field":"s","type":"nominal","scale":{"domain":["k","r","g","o","b"],"range":["#1a1a1a","#ee2222","#2b9c2b","#a25f5c","#2222ee"]},"legend":null},"strokeDash":{"field":"s","type":"nominal","scale":{"domain":["k","r","g","o","b"],"range":[[1,0],[3,2],[1,0],[1,0],[1,0]]},"legend":null}}},
   {"transform":[{"filter":"datum.m>0"}],"mark":{"type":"point","clip":true,"filled":false,"strokeWidth":0.6,"size":12,"opacity":1},"encoding":{"color":{"field":"s","type":"nominal","scale":{"domain":["k","r","g","o","b"],"range":["#6e6e6e","#ee2222","#2b9c2b","#a25f5c","#2222ee"]},"legend":null},"shape":{"field":"s","type":"nominal","scale":{"domain":["k","r","g","o","b"],"range":["M-1,-0.75H1L0,1Z","M-1.1,0H1.1M0,-1.1V1.1M-0.8,-0.8L0.8,0.8M-0.8,0.8L0.8,-0.8","M-0.75,-0.75H0.75V0.75H-0.75Z","M-1.1,0A1.1,1.1 0 1,0 1.1,0A1.1,1.1 0 1,0 -1.1,0","M-0.35,0A0.35,0.35 0 1,0 0.35,0A0.35,0.35 0 1,0 -0.35,0"]},"legend":null}}}
  ],
  "resolve":{"scale":{"color":"independent"}}}
 ]}
]
}
